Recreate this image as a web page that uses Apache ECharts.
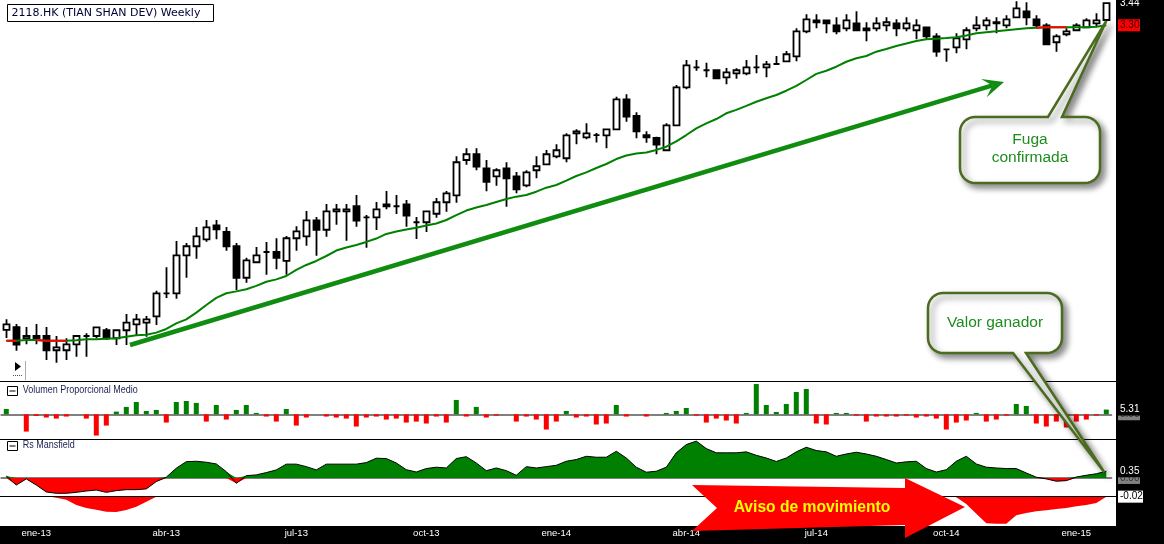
<!DOCTYPE html>
<html><head><meta charset="utf-8">
<script src="https://cdn.jsdelivr.net/npm/echarts@6/dist/echarts.min.js"></script>
<style>html,body{margin:0;padding:0;background:#fff;}#c{width:1164px;height:544px;}</style>
</head><body><div id="c"></div>
<script>
const opens = [1.398,1.416,1.346,1.36,1.36,1.271,1.271,1.308,1.36,1.36,
1.396,1.346,1.396,1.433,1.443,1.483,1.627,1.627,1.864,1.921,
1.964,2.052,2.01,1.921,1.724,1.821,1.885,1.885,1.829,1.971,
1.983,2.083,2.024,2.139,2.139,2.171,2.102,2.102,2.171,2.171,
2.183,2.071,2.071,2.124,2.196,2.239,2.46,2.496,2.408,2.358,
2.408,2.358,2.302,2.396,2.433,2.483,2.471,2.627,2.602,2.616,
2.614,2.652,2.839,2.735,2.616,2.598,2.521,2.677,2.914,3.039,
3.021,3.021,2.977,3.002,3.002,3.039,3.039,3.06,3.077,3.108,
3.264,3.333,3.333,3.302,3.283,3.314,3.271,3.283,3.302,3.314,
3.283,3.271,3.289,3.233,3.152,3.164,3.214,3.283,3.302,3.321,
3.302,3.352,3.389,3.339,3.302,3.196,3.246,3.271,3.289,3.314,
3.335];
const closes = [1.433,1.306,1.36,1.346,1.271,1.289,1.308,1.36,1.36,1.414,
1.346,1.396,1.443,1.464,1.464,1.627,1.627,1.864,1.921,1.983,
2.039,2.027,1.921,1.724,1.833,1.864,1.885,1.849,1.971,2.014,
2.083,2.024,2.139,2.152,2.152,2.081,2.102,2.152,2.183,2.171,
2.112,2.071,2.139,2.196,2.252,2.446,2.496,2.418,2.324,2.396,
2.346,2.277,2.383,2.421,2.496,2.521,2.614,2.639,2.627,2.616,
2.652,2.839,2.731,2.639,2.602,2.556,2.677,2.914,3.052,3.039,
3.021,2.971,3.008,3.021,3.039,3.039,3.058,3.06,3.121,3.264,
3.339,3.321,3.314,3.264,3.333,3.271,3.283,3.314,3.321,3.283,
3.314,3.302,3.233,3.137,3.152,3.221,3.271,3.302,3.333,3.314,
3.339,3.408,3.352,3.302,3.183,3.233,3.264,3.302,3.333,3.333,
3.44];
const lows = [1.348,1.268,1.308,1.308,1.21,1.193,1.21,1.231,1.231,1.346,
1.335,1.304,1.304,1.36,1.356,1.429,1.598,1.593,1.724,1.843,
1.949,1.964,1.893,1.646,1.693,1.815,1.743,1.777,1.743,1.893,
1.924,1.862,1.981,2.056,1.956,2.043,1.912,2.023,2.152,2.123,
2.043,1.966,2.01,2.099,2.137,2.193,2.431,2.396,2.264,2.299,
2.168,2.252,2.289,2.346,2.43,2.471,2.446,2.558,2.589,2.569,
2.533,2.652,2.699,2.596,2.568,2.496,2.52,2.675,2.902,3.018,
2.977,2.968,2.933,2.968,2.989,3.002,2.977,3.058,3.071,3.077,
3.252,3.283,3.252,3.246,3.264,3.264,3.202,3.264,3.264,3.233,
3.264,3.214,3.214,3.106,3.074,3.127,3.152,3.264,3.271,3.252,
3.283,3.346,3.302,3.283,3.18,3.137,3.233,3.264,3.283,3.289,
3.331];
const highs = [1.464,1.435,1.416,1.435,1.416,1.36,1.346,1.36,1.377,1.42,
1.41,1.396,1.498,1.498,1.485,1.643,1.789,1.954,1.941,2.041,
2.085,2.085,2.041,1.941,1.849,1.916,1.948,1.971,1.985,2.046,
2.141,2.104,2.185,2.185,2.185,2.241,2.116,2.198,2.266,2.241,
2.21,2.104,2.141,2.223,2.266,2.483,2.533,2.533,2.46,2.408,
2.446,2.385,2.396,2.483,2.523,2.558,2.627,2.652,2.689,2.629,
2.652,2.856,2.871,2.758,2.639,2.606,2.689,2.929,3.085,3.085,
3.068,3.025,3.035,3.033,3.085,3.116,3.079,3.11,3.141,3.283,
3.371,3.371,3.333,3.352,3.371,3.389,3.321,3.352,3.352,3.339,
3.352,3.339,3.292,3.252,3.155,3.252,3.289,3.358,3.352,3.352,
3.364,3.452,3.446,3.364,3.314,3.246,3.283,3.314,3.346,3.377,
3.446];
const ma = [1.331,1.331,1.335,1.335,1.331,1.331,1.331,1.333,1.339,1.339,
1.343,1.346,1.356,1.364,1.368,1.381,1.404,1.439,1.464,1.506,
1.554,1.598,1.627,1.639,1.652,1.673,1.699,1.714,1.735,1.773,
1.804,1.829,1.86,1.894,1.913,1.929,1.948,1.969,1.998,2.013,
2.026,2.036,2.051,2.063,2.085,2.116,2.144,2.163,2.179,2.198,
2.216,2.231,2.241,2.262,2.287,2.304,2.331,2.36,2.383,2.41,
2.435,2.466,2.488,2.501,2.507,2.523,2.543,2.576,2.616,2.658,
2.689,2.716,2.752,2.773,2.798,2.824,2.846,2.866,2.893,2.923,
2.96,2.998,3.018,3.043,3.074,3.096,3.11,3.137,3.154,3.173,
3.188,3.204,3.214,3.218,3.222,3.227,3.238,3.252,3.258,3.264,
3.271,3.277,3.283,3.287,3.289,3.289,3.289,3.289,3.289,3.293,
3.302];
const maFalling = [[0,1],[3,6],[103,106]];
const volume = [6.0,0,-19.6,-1.9,-3.7,-4.9,-2.6,0,-4.9,-24.1,
-12.8,3.0,8.3,13.9,3.7,4.9,-9.4,13.9,15.0,12.8,
-8.3,10.5,-6.0,4.9,10.5,1.5,-2.6,-8.3,6.0,-12.8,
-3.7,0,-2.6,-3.7,-4.9,-13.9,-3.7,-2.6,-6.0,-4.9,
-9.4,-8.3,-10.5,-2.6,-9.4,16.2,-2.6,8.3,-3.7,-1.5,
0,-8.3,-2.6,-6.0,-17.3,-8.3,3.7,-3.7,-2.6,-11.6,
-10.5,10.5,-2.6,0,-2.6,0,1.5,3.7,7.1,-1.5,
-9.4,-4.9,-7.1,-10.5,1.5,34.2,10.5,2.6,11.6,25.2,
28.6,-10.5,-11.6,1.5,1.5,-1.5,-8.3,-2.6,-2.6,-2.6,
-1.5,-3.7,-2.6,-4.9,-17.3,-9.4,-7.1,1.5,-8.3,-6.0,
-1.5,11.6,9.4,-10.5,-13.9,-8.3,-15.0,-8.3,-6.0,-1.5,
5.31];
const rs = [0.10,-0.37,-0.05,-0.37,-0.73,-0.80,-0.80,-0.75,-0.68,-0.63,
-0.75,-0.66,-0.61,-0.61,-0.57,-0.19,0.04,0.51,0.85,0.87,
0.82,0.73,0.33,-0.28,0.12,0.16,0.28,0.42,0.72,0.72,
0.59,0.42,0.72,0.72,0.72,0.72,0.80,1.03,1.01,0.78,
0.43,0.31,0.49,0.56,0.52,1.01,1.11,0.78,0.38,0.52,
0.38,0.14,0.59,0.52,0.59,0.66,0.87,0.96,1.13,1.08,
1.08,1.39,1.04,0.56,0.30,0.35,0.56,1.31,1.74,1.92,
1.53,1.31,1.31,1.31,1.36,1.18,1.04,0.86,1.04,1.36,
1.60,1.43,1.36,1.13,1.25,1.34,1.25,1.13,0.96,0.78,
0.84,0.87,0.49,0.31,0.43,0.87,1.13,0.73,0.56,0.52,
0.49,0.49,0.26,0.04,-0.05,-0.17,-0.14,0.05,0.14,0.22,
0.35];
const rs2 = [0,0,0,0,0,-0.05,-0.11,-0.27,-0.36,-0.41,
-0.47,-0.48,-0.42,-0.32,-0.17,-0.02,0,0,0,0,
0,0,0,0,0,0,0,0,0,0,
0,0,0,0,0,0,0,0,0,0,
0,0,0,0,0,0,0,0,0,0,
0,0,0,0,0,0,0,0,0,0,
0,0,0,0,0,0,0,0,0,0,
0,0,0,0,0,0,0,0,0,0,
0,0,0,0,0,0,0,0,0,0,
0,0,0,0,0,-0.04,-0.24,-0.53,-0.82,-0.83,
-0.83,-0.58,-0.51,-0.46,-0.43,-0.39,-0.36,-0.31,-0.27,-0.21,
-0.02];
const tickIndex = [3,16,29,42,55,68,81,94,107];
const tickLabels = ['ene-13','abr-13','jul-13','oct-13','ene-14','abr-14','jul-14','oct-14','ene-15'];
const title = '2118.HK (TIAN SHAN DEV) Weekly';

const weeks = opens.map((_, i) => 'w' + i);
const chart = echarts.init(document.getElementById('c'), null, {renderer: 'canvas'});
const L = 1.3, W = 1110;
const grids = [
  {left: L, width: W, top: 0, height: 380},
  {left: L, width: W, top: 382, height: 57},
  {left: L, width: W, top: 439, height: 57},
  {left: L, width: W, top: 496, height: 28}
].map(g => Object.assign(g, {containLabel: false, outerBoundsMode: 'none'}));
const ranges = [[1.085, 3.46], [-28, 36.5], [-0.94, 2.03], [-0.84, 0]];

const xAxis = grids.map((g, i) => ({
  type: 'category', gridIndex: i, data: weeks, boundaryGap: true,
  axisTick: {show: false}, splitLine: {show: false},
  axisLine: (i === 1 || i === 2) ? {show: true, onZero: true, lineStyle: {color: '#808080', width: 2}} : {show: false, onZero: false},
  axisLabel: i === 3 ? {
    show: true, color: '#ffffff', fontSize: 9.5, fontFamily: 'Liberation Sans', margin: 4,
    interval: (idx) => tickIndex.indexOf(idx) >= 0,
    formatter: (v, idx) => { const j = tickIndex.indexOf(idx); return j >= 0 ? tickLabels[j] : ''; }
  } : {show: false},
  z: i === 3 ? 55 : 0
}));
const yAxis = ranges.map((r, i) => ({type: 'value', gridIndex: i, min: r[0], max: r[1], show: false, scale: false, splitLine: {show: false}}));

const candleData = opens.map((o, i) => [o, closes[i], lows[i], highs[i]]);
const maRed = ma.map((v, i) => maFalling.some(([a, b]) => i >= a && i <= b) ? v : null);
const rsPos = rs.map(v => Math.max(v, 0));
const rsNeg = rs.map(v => Math.min(v, 0));

chart.setOption({
  animation: false,
  backgroundColor: '#ffffff',
  grid: grids, xAxis, yAxis,
  series: [
    {type: 'candlestick', xAxisIndex: 0, yAxisIndex: 0, data: candleData, barWidth: 7,
      itemStyle: {color: '#ffffff', color0: '#000000', borderColor: '#000000', borderColor0: '#000000', borderWidth: 1.8}},
    {type: 'line', xAxisIndex: 0, yAxisIndex: 0, data: ma, symbol: 'none', lineStyle: {color: '#008000', width: 2}, z: 3},
    {type: 'line', xAxisIndex: 0, yAxisIndex: 0, data: maRed, symbol: 'none', connectNulls: false, lineStyle: {color: '#ff0000', width: 2}, z: 4},
    {type: 'bar', xAxisIndex: 1, yAxisIndex: 1, data: volume, barWidth: 5,
      itemStyle: {color: (p) => p.value >= 0 ? '#008000' : '#ff0000'}},
    {type: 'line', xAxisIndex: 2, yAxisIndex: 2, data: rsPos, symbol: 'none', lineStyle: {width: 0, color: '#008000'}, areaStyle: {color: '#008000', opacity: 1}},
    {type: 'line', xAxisIndex: 2, yAxisIndex: 2, data: rsNeg, symbol: 'none', lineStyle: {width: 0, color: '#ff0000'}, areaStyle: {color: '#ff0000', opacity: 1}},
    {type: 'line', xAxisIndex: 2, yAxisIndex: 2, data: rs, symbol: 'none', lineStyle: {color: '#000000', width: 1}, z: 5},
    {type: 'line', xAxisIndex: 3, yAxisIndex: 3, data: rs2, symbol: 'none', lineStyle: {width: 0, color: '#ff0000'}, areaStyle: {color: '#ff0000', opacity: 1}}
  ]
});

const last = opens.length - 1;
const px = (gi, k, v) => chart.convertToPixel({xAxisIndex: gi, yAxisIndex: gi}, [k, v]);

function txt(x, y, text, o) {
  o = o || {};
  return {type: 'text', x, y, z: o.z || 60, silent: true, scaleX: o.scaleX || 1,
    style: {text, x: 0, y: 0, fill: o.fill || '#000', fontSize: o.size || 10,
      fontFamily: o.family || 'Liberation Sans', fontWeight: o.weight || 'normal',
      textAlign: o.align || 'left', align: o.align || 'left',
      textVerticalAlign: 'middle', verticalAlign: 'middle', lineHeight: o.lh || undefined}};
}
function rect(x, y, w, h, fill, o) {
  o = o || {};
  return {type: 'rect', z: o.z || 50, silent: true, shape: {x, y, width: w, height: h},
    style: {fill, stroke: o.stroke || null, lineWidth: o.lw || 0}};
}
function line(x1, y1, x2, y2, color, w, z) {
  return {type: 'line', z: z || 45, silent: true, shape: {x1, y1, x2, y2}, style: {stroke: color, lineWidth: w}};
}
function calloutPts(x0, y0, x1, y1, r, side, b1, b2, tip) {
  const pts = [];
  const arc = (cx, cy, a0, a1) => { for (let i = 0; i <= 8; i++) { const a = a0 + (a1 - a0) * i / 8; pts.push([cx + r * Math.cos(a), cy + r * Math.sin(a)]); } };
  arc(x0 + r, y0 + r, Math.PI, 1.5 * Math.PI);
  if (side === 'top') pts.push([b1, y0], tip, [b2, y0]);
  arc(x1 - r, y0 + r, 1.5 * Math.PI, 2 * Math.PI);
  arc(x1 - r, y1 - r, 0, 0.5 * Math.PI);
  if (side === 'bottom') pts.push([b2, y1], tip, [b1, y1]);
  arc(x0 + r, y1 - r, 0.5 * Math.PI, Math.PI);
  return pts;
}

const g = [];
g.push(line(0, 381.5, 1116, 381.5, '#000', 1));
g.push(line(0, 439.5, 1116, 439.5, '#000', 1));
g.push(line(0, 496.5, 1116, 496.5, '#000', 1));
g.push(rect(1116, 0, 48, 544, '#000', {z: 50}));
g.push(rect(0, 526, 1164, 18, '#000', {z: 50}));
g.push(rect(7.5, 4.5, 206, 17, '#fff', {stroke: '#000', lw: 1, z: 45}));
g.push(txt(11.5, 13.2, title, {fill: '#000033', size: 11, family: 'DejaVu Sans', z: 46}));
[[386.5, 'Volumen Proporcional Medio'], [441.5, 'Rs Mansfield']].forEach(([y, t]) => {
  g.push(rect(7.5, y, 10, 9, '#fff', {stroke: '#000', lw: 1, z: 45}));
  g.push(line(9.5, y + 4.5, 15.5, y + 4.5, '#000', 1, 46));
  g.push(txt(22.7, y + 4, t, {fill: '#1a2050', size: 10, scaleX: 0.9, z: 46}));
});
g.push({type: 'polygon', z: 45, silent: true, shape: {points: [[15, 362], [21, 366.5], [15, 371]]}, style: {fill: '#000'}});
g.push({type: 'line', z: 45, silent: true, shape: {x1: 13, y1: 375.5, x2: 22, y2: 375.5}, style: {stroke: '#555', lineWidth: 1, lineDash: [1, 1]}});
g.push(line(25.5, 361, 25.5, 380, '#aaaaaa', 1));

const yc = px(0, last, closes[last])[1];
g.push(txt(1120, yc, closes[last].toFixed(2), {fill: '#ffffff', size: 10, z: 62}));
const ym = px(0, last, ma[last])[1];
g.push(rect(1118, ym - 6, 22, 12, '#ff0000', {z: 61}));
g.push(txt(1120, ym, ma[last].toFixed(2), {fill: '#330000', size: 10, z: 62}));
[[1, volume[last]], [2, rs[last]]].forEach(([gi, v]) => {
  const yb = px(gi, last, 0)[1];
  g.push(rect(1118, yb - 6, 22, 12, '#808080', {z: 61}));
  g.push(txt(1120, yb, '0.00', {fill: '#333', size: 10, z: 62}));
  const yv = px(gi, last, v)[1];
  g.push(rect(1117, yv - 6, 30, 12, '#000', {z: 63}));
  g.push(txt(1120, yv, v.toFixed(2), {fill: '#ffffff', size: 10, z: 64}));
});
const y4 = px(3, last, rs2[last])[1];
g.push(rect(1118, y4 - 6, 25, 12, '#ffffff', {z: 61}));
g.push(txt(1120, y4, rs2[last].toFixed(2), {fill: '#000', size: 10, z: 62}));

const A0 = [130, 345], A1 = [1004, 82];
const dx = A1[0] - A0[0], dy = A1[1] - A0[1], len = Math.hypot(dx, dy);
const ux = dx / len, uy = dy / len, nx = -uy, ny = ux;
const at = (al, pp) => [A1[0] + ux * al + nx * pp, A1[1] + uy * al + ny * pp];
const notch = at(-12, 0);
g.push({type: 'line', z: 40, silent: true, shape: {x1: A0[0], y1: A0[1], x2: notch[0], y2: notch[1]}, style: {stroke: '#108c10', lineWidth: 4.5}});
g.push({type: 'polygon', z: 40, silent: true, shape: {points: [A1, at(-21, -9.5), notch, at(-21, 9.5)]}, style: {fill: '#108c10'}});

const tip1 = px(0, last, opens[last]);
const tip2 = px(2, last, rs[last]);
const cStyle = {fill: '#ffffff', stroke: '#4b6b1e', lineWidth: 2.5, shadowBlur: 6, shadowColor: 'rgba(0,0,0,0.45)', shadowOffsetX: 4, shadowOffsetY: 4};
g.push({type: 'polygon', z: 80, silent: true, shape: {points: calloutPts(960, 117, 1100, 183, 15, 'top', 1048, 1062, [tip1[0], tip1[1] + 1])}, style: cStyle});
g.push(txt(1030, 149, 'Fuga\nconfirmada', {fill: '#1e8c1e', size: 15.5, align: 'center', lh: 18, z: 81}));
g.push({type: 'polygon', z: 80, silent: true, shape: {points: calloutPts(928, 293, 1062, 353, 15, 'bottom', 1013, 1026, [tip2[0] - 2, tip2[1] + 1])}, style: cStyle});
g.push(txt(995, 322.5, 'Valor ganador', {fill: '#1e8c1e', size: 15.5, align: 'center', z: 81}));

g.push({type: 'polygon', z: 70, silent: true, shape: {points: [[692, 485], [905, 488], [905, 478], [965, 507], [905, 538], [905, 525], [692, 531], [717, 508]]}, style: {fill: '#ff0000'}});
g.push(txt(812, 507, 'Aviso de movimiento', {fill: '#ffff00', size: 17, weight: 'bold', align: 'center', scaleX: 0.92, z: 71}));

chart.setOption({graphic: {elements: g}});
</script>
</body></html>
